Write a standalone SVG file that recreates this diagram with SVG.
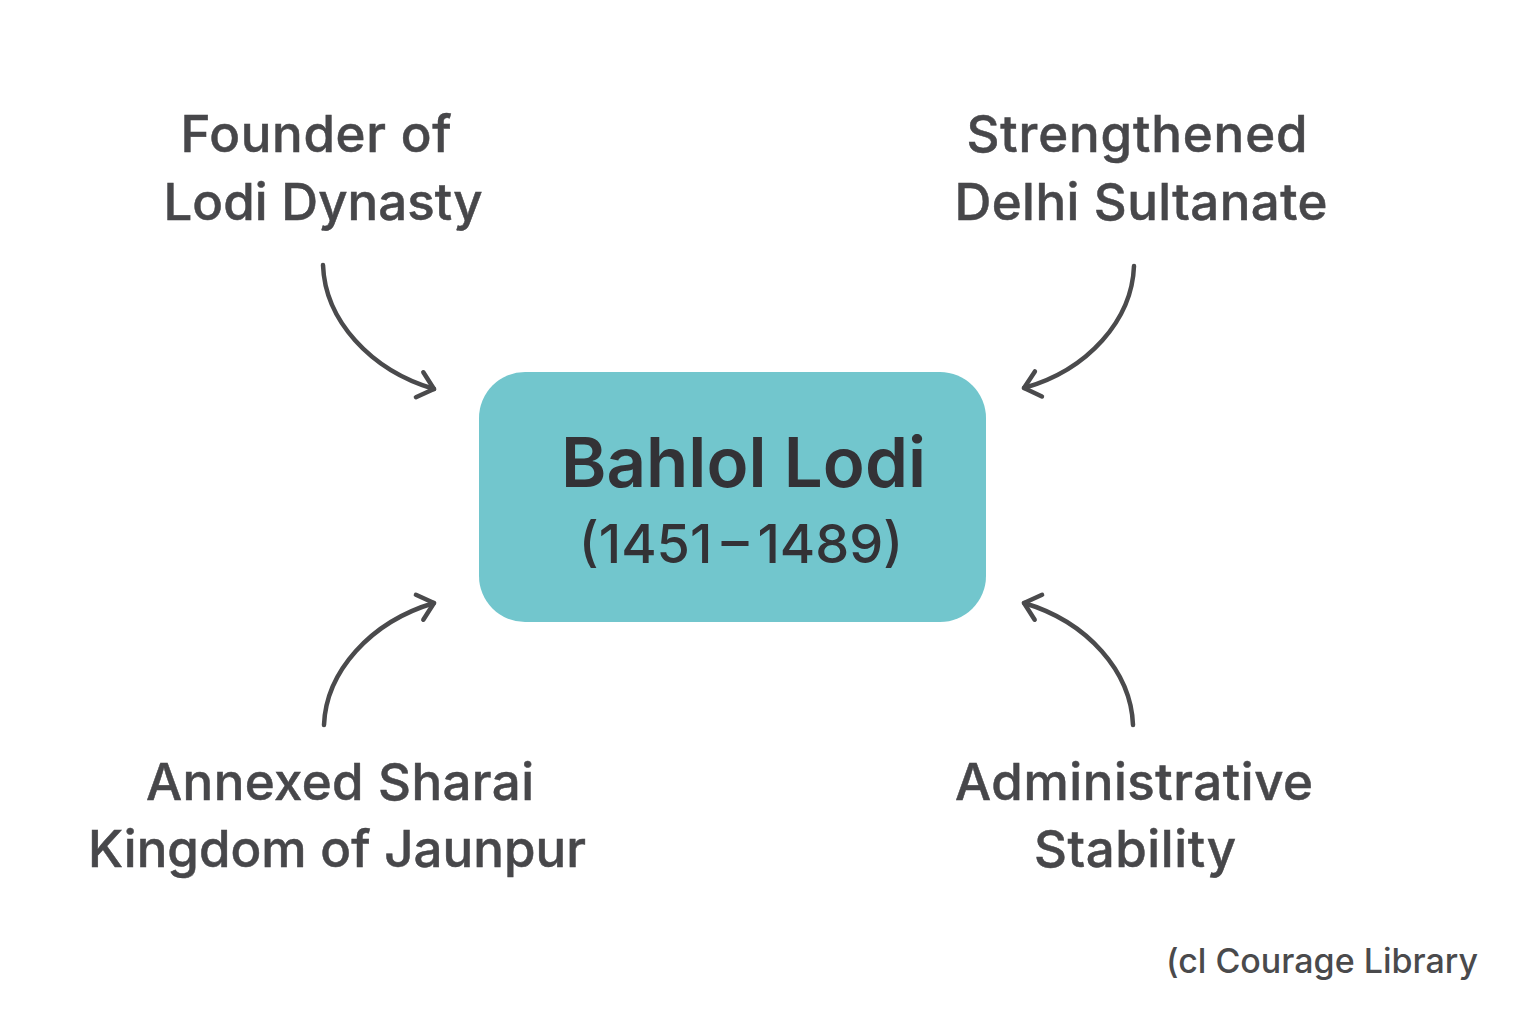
<svg xmlns="http://www.w3.org/2000/svg" width="1536" height="1024" viewBox="0 0 1536 1024">
<style>
text{font-family:Inter,"Liberation Sans",sans-serif;text-anchor:middle}
.l{font-size:51px;fill:#47474a;font-weight:500;stroke:#47474a;stroke-width:.5px}
.c{fill:none;stroke:#4a4a4c;stroke-width:4.5;stroke-linecap:round;stroke-linejoin:round}
</style>
<defs><marker id="a" markerUnits="userSpaceOnUse" markerWidth="34" markerHeight="34" refX="20" refY="17" orient="auto"><path class="c" d="M5 4 L20 17 L5 30"/></marker></defs>
<rect width="1536" height="1024" fill="#fff"/>
<g id="connectors">
<path class="c" d="M323 265C325 320 370 370 434 389" marker-end="url(#a)"/>
<path class="c" d="M1134 266C1132 320 1088 370 1024 388" marker-end="url(#a)"/>
<path class="c" d="M324 725C326 672 370 622 434 603" marker-end="url(#a)"/>
<path class="c" d="M1133 725C1131 672 1088 622 1024 603" marker-end="url(#a)"/>
</g>
<g id="center"><rect x="479" y="372" width="507" height="250" rx="46" fill="#72c6cd"/>
<text x="743.500" y="487" font-size="69" font-weight="600" fill="#333236">Bahlol Lodi</text>
<text x="741" y="563" font-size="54" font-weight="500" fill="#333236">(1451<tspan dx="9">–</tspan><tspan dx="9">1489)</tspan></text></g>
<g id="n1"><text class="l" x="316" y="152" textLength="271">Founder of</text><text class="l" x="323" y="220" textLength="319">Lodi Dynasty</text></g>
<g id="n2"><text class="l" x="1137" y="152" textLength="341">Strengthened</text><text class="l" x="1141" y="220" textLength="373">Delhi Sultanate</text></g>
<g id="n3"><text class="l" x="340" y="800" textLength="388">Annexed Sharai</text><text class="l" x="337" y="867" textLength="498">Kingdom of Jaunpur</text></g>
<g id="n4"><text class="l" x="1134" y="800" textLength="358">Administrative</text><text class="l" x="1135" y="867" textLength="202">Stability</text></g>
<g id="credit"><text x="1322" y="973" font-size="34" font-weight="500" fill="#4a4a4c">(cl Courage Library</text></g>
</svg>
